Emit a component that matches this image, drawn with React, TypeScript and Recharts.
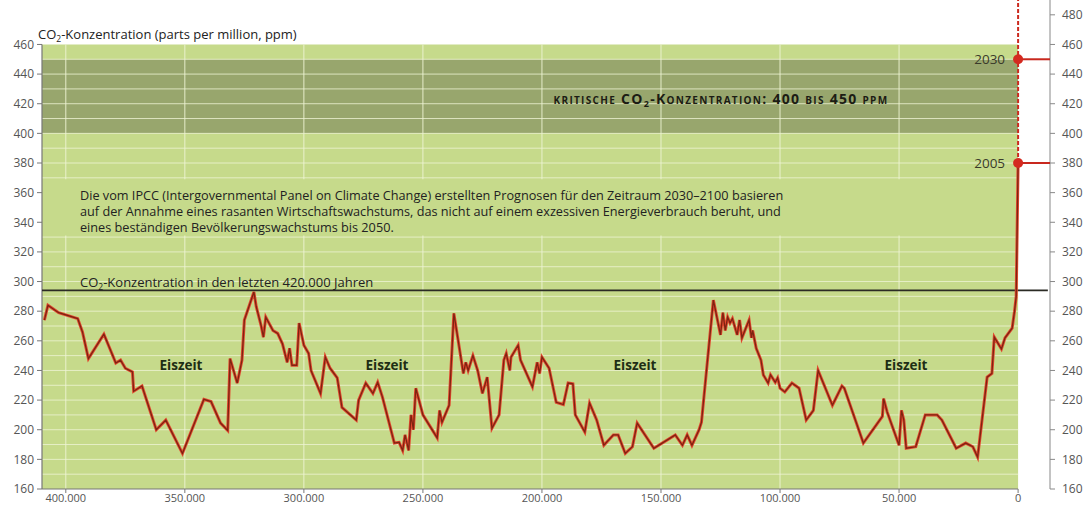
import React from 'react';
import {
  LineChart,
  Line,
  XAxis,
  YAxis,
  ReferenceArea,
  ReferenceLine,
  ReferenceDot,
} from 'recharts';

// Years before present
const years = [
  409000, 407500, 403000, 395000, 393000, 390500, 384000, 379000, 377000, 375000,
  372000, 371500, 368000, 362000, 358000, 351000, 342000, 339000, 335000, 332000,
  331000, 328000, 326000, 325000, 321000, 320000, 318000, 317000, 316000, 313000,
  311000, 309000, 307000, 306000, 305000, 303000, 302000, 300000, 298000, 297000,
  293000, 291000, 289000, 286000, 284000, 278000, 277000, 274000, 271000, 269000,
  267000, 262000, 260000, 258500, 257500, 256000, 255000, 254000, 253000, 250000,
  244000, 243000, 242000, 239000, 237000, 233000, 232000, 231000, 229000, 227000,
  225000, 223000, 221000, 218000, 216000, 215000, 213500, 213000, 210000, 209000,
  204000, 202000, 201000, 200000, 197000, 194000, 191000, 189000, 187000, 186000,
  182000, 180000, 177000, 174000, 170000, 168000, 165000, 162000, 160000, 153000,
  144000, 141000, 139000, 137000, 134000, 133000, 128000, 125000, 124000, 123000,
  122000, 121000, 120000, 118000, 117000, 116000, 113000, 112000, 111500, 110000,
  108000, 107000, 105000, 104000, 102000, 101000, 100000, 98000, 95000, 92000,
  89000, 86000, 84000, 78000, 74000, 73000, 65000, 57000, 56500, 55000,
  50000, 49000, 48000, 47000, 43000, 39000, 34000, 32000, 26000, 22000,
  19000, 17000, 13000, 11000, 10000, 7000, 5500, 2500, 1500, 800, 0,
];

// CO2 concentration (ppm)
const co2 = [
  274, 284, 279, 275, 266, 248, 264.5, 245, 247, 241.5,
  239, 226, 229.5, 200, 206.5, 184, 220.5, 219, 204.5, 199.5,
  248, 231.5, 247, 274, 293, 283, 270.5, 262.5, 276, 267,
  265, 258, 245.5, 255, 243.5, 243.5, 272, 257, 251.5, 240,
  224.5, 249, 241.5, 235, 215, 206.5, 220, 231.5, 224.5, 232,
  222, 191, 191.5, 186, 196.5, 186, 210, 200, 228, 210,
  194.5, 213, 205, 216.5, 278.5, 238, 245.5, 240, 250, 240,
  224.5, 235.5, 201, 210, 247, 251.5, 240, 249, 257, 247,
  229, 245.5, 238, 249, 241.5, 218.5, 217, 231.5, 231, 210,
  198.5, 218, 206.5, 189.5, 196.5, 196.5, 184, 188.5, 204.5, 187.5,
  196.5, 189.5, 196.5, 189.5, 200, 205, 287.5, 264, 279, 267,
  276, 272, 275, 264, 274, 262, 274, 262, 267, 255,
  247, 237, 231.5, 237, 232, 235, 228, 225.5, 231.5, 228,
  206.5, 213, 240, 216.5, 229.5, 228, 191, 209, 221, 212,
  189.5, 213, 206.5, 187.5, 188.5, 210, 210, 206.5, 187.5, 191,
  188.5, 181.5, 235.5, 238, 262.5, 254.5, 262, 268.5, 280, 290, 380,
];

const xTicks = [400000, 350000, 300000, 250000, 200000, 150000, 100000, 50000, 0];
const leftTicks = [160, 180, 200, 220, 240, 260, 280, 300, 320, 340, 360, 380, 400, 420, 440, 460];
const rightTicks = [160, 180, 200, 220, 240, 260, 280, 300, 320, 340, 360, 380, 400, 420, 440, 460, 480];
const gridLevels = [170, 180, 190, 200, 210, 220, 230, 240, 250, 260, 270, 280, 290, 300, 310, 320, 330, 340, 350, 360, 370, 380, 390, 400, 410, 420, 430, 440, 450];
const criticalBand = [400, 450];
const chartTop = 460;
const chartBottom = 160;
const oldest = 410000;
const rightEdge = -13400;
const preIndustrialMax = 294;
const projections = [
  { label: '2030', value: 450 },
  { label: '2005', value: 380 },
];
const iceAges = [
  { label: 'Eiszeit', x: 181 },
  { label: 'Eiszeit', x: 387 },
  { label: 'Eiszeit', x: 635 },
  { label: 'Eiszeit', x: 906 },
];

const data = years.map((y, i) => ({ year: y, ppm: co2[i] }));

const FONT = "'Open Sans', 'Noto Sans', 'DejaVu Sans', sans-serif";
const GREEN = '#c6da8b';
const DARK = '#98a66d';
const GRID = '#eef4d4';

const fmtYear = (v: number) => String(v).replace(/\B(?=(\d{3})+(?!\d))/g, '.');

export default function App() {
  return (
    <div style={{ position: 'absolute', left: 0, top: 0, width: 1090, height: 507, background: '#fff', fontFamily: FONT }}>
      <LineChart width={1090} height={507} data={data} margin={{ top: 0, right: 0, bottom: 0, left: 0 }}>
        <XAxis
          dataKey="year"
          type="number"
          domain={[rightEdge, oldest]}
          reversed
          ticks={xTicks}
          interval={0}
          tickFormatter={fmtYear}
          axisLine={false}
          tickLine={{ stroke: '#777' }}
          tickSize={4}
          tickMargin={1}
          height={18}
          allowDataOverflow
          tick={{ fontSize: 11, fill: '#555', fontFamily: FONT }}
        />
        <YAxis
          yAxisId="l"
          orientation="left"
          domain={[160, 490]}
          ticks={leftTicks}
          interval={0}
          width={42}
          axisLine={false}
          tickLine={{ stroke: '#777' }}
          tickSize={5}
          tickMargin={3}
          allowDataOverflow
          tick={{ fontSize: 12, fill: '#555', fontFamily: FONT }}
        />
        <YAxis
          yAxisId="r"
          orientation="right"
          domain={[160, 490]}
          ticks={rightTicks}
          interval={0}
          width={40}
          axisLine={{ stroke: '#888' }}
          tickLine={{ stroke: '#888' }}
          tickSize={5}
          tickMargin={7}
          allowDataOverflow
          tick={{ fontSize: 12, fill: '#555', fontFamily: FONT }}
        />

        <ReferenceArea yAxisId="l" x1={oldest} x2={0} y1={chartBottom} y2={chartTop} fill={GREEN} fillOpacity={1} stroke="none" ifOverflow="visible" zIndex={-300} />
        <ReferenceArea yAxisId="l" x1={oldest} x2={0} y1={criticalBand[0]} y2={criticalBand[1]} fill={DARK} fillOpacity={1} stroke="none" ifOverflow="visible" zIndex={-290} />

        {gridLevels.map((v) => (
          <ReferenceLine key={'h' + v} yAxisId="l" segment={[{ x: oldest, y: v }, { x: 0, y: v }]} stroke={GRID} strokeOpacity={0.8} strokeWidth={1} ifOverflow="visible" zIndex={-280} />
        ))}
        {xTicks.filter((t) => t > 0).map((t) => (
          <ReferenceLine key={'v' + t} yAxisId="l" segment={[{ x: t, y: chartBottom }, { x: t, y: chartTop }]} stroke={GRID} strokeOpacity={0.9} strokeWidth={1} ifOverflow="visible" zIndex={-280} />
        ))}

        <ReferenceArea yAxisId="l" x1={oldest} x2={0} y1={331} y2={369} fill={GREEN} fillOpacity={1} stroke="none" ifOverflow="visible" zIndex={-270} />

        <ReferenceLine yAxisId="l" segment={[{ x: oldest, y: chartBottom }, { x: oldest, y: chartTop }]} stroke="#777" strokeWidth={1.2} ifOverflow="visible" zIndex={-260} />
        <ReferenceLine yAxisId="l" segment={[{ x: oldest, y: chartBottom }, { x: 0, y: chartBottom }]} stroke="#777" strokeWidth={1.2} ifOverflow="visible" zIndex={-260} />
        <ReferenceLine yAxisId="l" segment={[{ x: oldest, y: preIndustrialMax }, { x: -12500, y: preIndustrialMax }]} stroke="#2b2b24" strokeWidth={1.8} ifOverflow="visible" zIndex={-250} />

        <Line yAxisId="l" dataKey="ppm" type="linear" stroke="#e2482f" strokeWidth={3} dot={false} activeDot={false} isAnimationActive={false} zIndex={400} />
        <Line yAxisId="l" dataKey="ppm" type="linear" stroke="#7e2411" strokeWidth={1.3} dot={false} activeDot={false} isAnimationActive={false} zIndex={401} />

        <ReferenceLine yAxisId="l" segment={[{ x: 0, y: 380 }, { x: 0, y: 490 }]} stroke="#cc2a1e" strokeWidth={2} strokeDasharray="4 2" ifOverflow="visible" zIndex={500} />
        {projections.map((p) => (
          <ReferenceLine key={'p' + p.label} yAxisId="l" segment={[{ x: 0, y: p.value }, { x: rightEdge, y: p.value }]} stroke="#c8281e" strokeWidth={2} ifOverflow="visible" zIndex={500} />
        ))}
        {projections.map((p) => (
          <ReferenceDot
            key={'d' + p.label}
            yAxisId="l"
            x={0}
            y={p.value}
            r={5}
            fill="#d42a20"
            stroke="none"
            ifOverflow="visible"
            zIndex={600}
            label={{ value: p.label, position: 'left', offset: 8, fontSize: 13.5, fill: '#3a3a2a', fontFamily: FONT }}
          />
        ))}
      </LineChart>

      <svg width={1090} height={507} style={{ position: 'absolute', left: 0, top: 0, pointerEvents: 'none' }} fontFamily={FONT}>
        <text x={38} y={39} fontSize={13} fill="#222">
          CO<tspan fontSize={8.5} dy={3}>2</tspan><tspan dy={-3}>-Konzentration (parts per million, ppm)</tspan>
        </text>
        <text x={721} y={104} fontSize={14} fontWeight={700} fill="#1c1c14" textAnchor="middle" letterSpacing={1.3} style={{ fontVariant: 'small-caps' }}>
          kritische CO<tspan fontSize={9} dy={3}>2</tspan><tspan dy={-3}>-Konzentration: 400 bis 450 ppm</tspan>
        </text>
        <text x={80} y={200} fontSize={12.7} fill="#222">
          Die vom IPCC (Intergovernmental Panel on Climate Change) erstellten Prognosen für den Zeitraum 2030–2100 basieren
        </text>
        <text x={80} y={216} fontSize={12.7} fill="#222">
          auf der Annahme eines rasanten Wirtschaftswachstums, das nicht auf einem exzessiven Energieverbrauch beruht, und
        </text>
        <text x={80} y={232} fontSize={12.7} fill="#222">
          eines beständigen Bevölkerungswachstums bis 2050.
        </text>
        <text x={80} y={287} fontSize={13} fill="#222">
          CO<tspan fontSize={8.5} dy={3}>2</tspan><tspan dy={-3}>-Konzentration in den letzten 420.000 Jahren</tspan>
        </text>
        {iceAges.map((e, i) => (
          <text key={i} x={e.x} y={370} fontSize={13.5} fontWeight={700} fill="#1e2e14" textAnchor="middle">
            {e.label}
          </text>
        ))}
      </svg>
    </div>
  );
}
